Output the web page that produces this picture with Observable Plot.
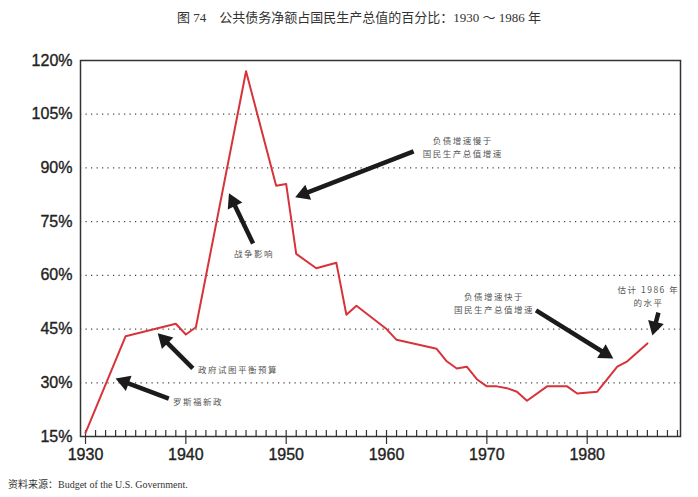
<!DOCTYPE html>
<html><head><meta charset="utf-8">
<script src="https://cdn.jsdelivr.net/npm/d3@7"></script>
<script src="https://cdn.jsdelivr.net/npm/@observablehq/plot@0.6"></script>
<style>
body{margin:0;background:#fff;width:698px;height:497px;overflow:hidden;}
#title{height:40px;line-height:36px;text-align:center;font-size:13px;font-family:"Liberation Serif","Noto Sans CJK SC",serif;color:#333;padding-left:20px;box-sizing:border-box;}
#caption{height:27px;line-height:30px;font-size:10px;font-family:"Liberation Serif","Noto Sans CJK SC",serif;color:#333;padding-left:8px;}
g[aria-label="text"] text{letter-spacing:1.5px;}
g[aria-label="y-axis tick label"] text, g[aria-label="x-axis tick label"] text{stroke:#222;stroke-width:0.35px;}
</style></head><body>
<div id="title">图 74　公共债务净额占国民生产总值的百分比：1930 ～ 1986 年</div>
<div id="chart"></div>
<div id="caption">资料来源：Budget of the U.S. Government.</div>
<script>
const years   = [1930,1934,1939,1940,1941,1946,1949,1950,1951,1953,1955,1956,1957,1960,1961,1965,1966,1967,1968,1969,1970,1971,1972,1973,1974,1976,1978,1979,1981,1983,1984,1986];
const debtPct = [16,43,46.5,43.5,45.5,117,85,85.5,66,62,63.5,49,51.5,45,42,39.5,36,34,34.5,31,29,29,28.5,27.5,25,29,29,27,27.5,34.5,36,41];

const yTicks = [15,30,45,60,75,90,105,120];
const gridLevels = [30,45,60,75,90,105];
const decadeTicks = [1930,1940,1950,1960,1970,1980];
const yearTicks = d3.range(1930, 1990);

const noteLabels = ["罗斯福新政","政府试图平衡预算","战争影响","负债增速慢于\n国民生产总值增速","负债增速快于\n国民生产总值增速","估计 1986 年\n的水平"];
const noteX = [1941.2,1945.2,1946.8,1967.6,1970.7,1986.1];
const noteY = [25.1,33.9,66.3,96.0,52.4,54.4];

const arrowX1 = [1938.3,1940.7,1946.7,1962.7,1974.9,1987.1];
const arrowY1 = [25.6,34.0,68.9,94.6,50.2,49.6];
const arrowX2 = [1933.0,1937.2,1944.3,1950.9,1982.6,1986.5];
const arrowY2 = [31.2,43.8,82.9,81.8,36.8,43.2];

const series = years.map((y,i)=>({year:y, pct:debtPct[i]}));
const notes = noteLabels.map((t,i)=>({text:t, x:noteX[i], y:noteY[i]}));

const layout = {
  width: 698, height: 430,
  marginTop: 20, marginBottom: 34, marginLeft: 80, marginRight: 18,
  x: {domain: [1929.5, 1989.3]},
  y: {domain: [15, 120]}
};

// probe the library's scales to orient the filled arrowheads
const probe = Plot.plot({...layout, marks: [Plot.frame()]});
const sx = probe.scale("x"), sy = probe.scale("y");
const headR = 6, tipOff = 9.3;
const arrows = arrowX1.map((x1,i)=>{
  const px1 = sx.apply(x1), py1 = sy.apply(arrowY1[i]);
  const px2 = sx.apply(arrowX2[i]), py2 = sy.apply(arrowY2[i]);
  const L = Math.hypot(px2-px1, py2-py1), ux = (px2-px1)/L, uy = (py2-py1)/L;
  const cx = px2 - ux*tipOff, cy = py2 - uy*tipOff;
  return {x1, y1: arrowY1[i], hx: sx.invert(cx), hy: sy.invert(cy),
          rot: Math.atan2(ux, -uy) * 180 / Math.PI};
});

const chart = Plot.plot({
  ...layout,
  style: {fontFamily: "Liberation Sans, Arial, sans-serif", fontSize: "16px", color: "#222", background: "#fff"},
  marks: [
    Plot.ruleY(gridLevels, {stroke: "#444", strokeDasharray: "1.2,4.3", strokeWidth: 1.2}),
    Plot.tickX(yearTicks, {x: d => d, insetTop: 370, stroke: "#333", strokeWidth: 1.2}),
    Plot.axisX({ticks: decadeTicks, tickFormat: d => String(d), tickSize: 8, tickPadding: 4, fontSize: 16, stroke: "#333", strokeWidth: 1.2}),
    Plot.axisY({ticks: yTicks, tickFormat: d => d + "%", tickSize: 0, tickPadding: 8, fontSize: 16}),
    Plot.frame({stroke: "#333", strokeWidth: 1.5}),
    Plot.line(series, {x: "year", y: "pct", stroke: "#d7333b", strokeWidth: 2}),
    Plot.link(arrows, {x1: "x1", y1: "y1", x2: "hx", y2: "hy", stroke: "#1b1b1b", strokeWidth: 4.5}),
    Plot.dot(arrows, {x: "hx", y: "hy", rotate: "rot", symbol: "triangle", r: headR, fill: "#1b1b1b", stroke: "none"}),
    Plot.text(notes, {x: "x", y: "y", text: "text", fontSize: 8.5, fill: "#555", lineHeight: 1.55, fontFamily: "Noto Sans CJK SC, sans-serif"})
  ]
});
document.getElementById("chart").append(chart);
</script>
</body></html>
